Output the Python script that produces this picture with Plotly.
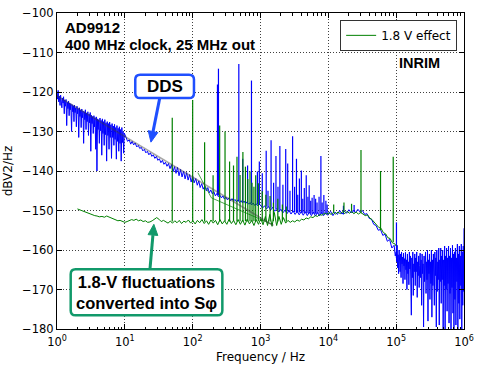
import math
import plotly.graph_objects as go

# ---------------- data ----------------
# DDS (blue) spectrum, piecewise lists of frequency [Hz] and level [dBV2/Hz]
blue_f_a = [1.00, 1.02, 1.04, 1.06, 1.08, 1.11, 1.13, 1.15, 1.18, 1.20,
            1.23, 1.25, 1.28, 1.30, 1.33, 1.36, 1.39, 1.42, 1.45, 1.48,
            1.51, 1.54, 1.57, 1.60, 1.64, 1.67, 1.71, 1.74, 1.78, 1.81,
            1.85, 1.89, 1.93, 1.97, 2.01, 2.05, 2.09, 2.14, 2.18, 2.23,
            2.27, 2.32, 2.37, 2.42, 2.47, 2.52, 2.57, 2.62, 2.68, 2.73,
            2.79, 2.85, 2.91, 2.97, 3.03, 3.09, 3.15, 3.22, 3.29, 3.35,
            3.42, 3.50, 3.57, 3.64, 3.72, 3.80, 3.88, 3.96, 4.04, 4.12,
            4.21, 4.30, 4.39, 4.48, 4.57, 4.67, 4.76, 4.86, 4.96, 5.07,
            5.17, 5.28, 5.39, 5.50, 5.62, 5.73, 5.85, 5.97, 6.10, 6.23,
            6.36, 6.49, 6.62, 6.76, 6.90, 7.05, 7.19, 7.34, 7.50, 7.65,
            7.81, 7.98, 8.14, 8.31, 8.49, 8.66, 8.84, 9.03, 9.22, 9.41,
            9.61, 9.81]
blue_v_a = [-120.0, -121.8, -119.6, -122.5, -121.0, -123.4, -120.8, -122.2, -124.0, -121.5,
            -122.8, -121.2, -125.5, -122.0, -123.6, -121.9, -128.5, -122.6, -124.2, -122.3,
            -126.0, -122.8, -124.5, -123.0, -130.0, -123.2, -125.0, -123.5, -127.5, -123.3,
            -125.2, -124.0, -128.8, -123.6, -125.5, -124.2, -131.5, -124.0, -126.2, -124.6,
            -129.0, -124.3, -126.5, -124.8, -133.0, -125.0, -127.0, -124.5, -129.5, -125.3,
            -127.5, -125.0, -131.0, -125.6, -127.8, -125.2, -135.0, -125.9, -128.0, -126.2,
            -130.5, -126.0, -128.8, -126.5, -134.5, -126.3, -140.0, -126.8, -129.5, -127.0,
            -133.0, -126.6, -129.8, -127.2, -136.0, -126.8, -130.5, -127.5, -133.5, -127.0,
            -130.8, -127.8, -137.5, -127.5, -131.0, -128.0, -134.5, -127.6, -131.5, -128.3,
            -136.8, -128.0, -131.5, -128.6, -133.5, -128.2, -132.0, -129.0, -137.0, -128.5,
            -132.5, -129.2, -135.0, -128.8, -133.0, -129.5, -137.5, -129.0, -132.8, -130.0,
            -135.5, -130.4]
blue_f_b = [10.5, 11.0, 11.6, 12.2, 12.8, 13.5, 14.2, 15.0, 15.8, 16.6,
            17.5, 18.4, 19.4, 20.4, 21.5, 22.6, 23.8, 25.0, 26.3, 27.7,
            29.2, 30.7, 32.3, 34.0, 35.8, 37.7, 39.7, 41.8, 44.0, 46.3,
            48.7, 51.3, 54.0, 56.8, 59.8, 63.0, 66.3, 69.8, 73.5, 77.3,
            81.4, 85.7, 90.2, 95.0, 100, 105, 111, 117, 123, 129,
            136, 143, 151, 159, 167, 176, 185, 195, 205, 216,
            227, 239, 252, 265, 279, 294, 309, 325, 343, 361,
            380, 400, 421, 443, 466, 491, 517, 544, 573, 603,
            635, 668, 703, 740, 779, 820, 863, 909, 956]
blue_v_b = [-131.6, -132.5, -132.1, -133.2, -132.5, -133.4, -132.9, -133.9, -133.5, -134.3,
            -134.0, -134.9, -134.5, -135.4, -135.0, -135.9, -135.4, -136.3, -135.9, -136.8,
            -136.3, -137.3, -136.9, -137.9, -137.3, -138.3, -137.8, -138.8, -138.1, -139.4,
            -138.4, -140.2, -138.9, -140.6, -139.1, -141.2, -139.6, -141.5, -140.0, -142.0,
            -140.4, -142.3, -140.9, -142.8, -141.3, -143.0, -141.9, -143.6, -142.5, -144.2,
            -143.2, -144.6, -143.8, -145.0, -144.2, -145.5, -144.8, -145.8, -145.2, -146.3,
            -145.7, -146.5, -146.1, -146.8, -146.3, -147.1, -146.6, -147.3, -146.8, -147.5,
            -147.0, -147.6, -147.2, -147.8, -147.3, -148.0, -147.5, -148.1, -147.6, -148.3,
            -147.8, -148.4, -148.0, -148.6, -148.1, -148.7, -148.3, -148.8, -148.4]
blue_f_c = [1000, 1070, 1150, 1230, 1320, 1410, 1510, 1620, 1740, 1860, 2000, 2140, 2290, 2460,
            2630, 2820, 3020, 3240, 3470, 3720, 3980, 4270, 4570, 4900, 5250, 5620, 6030, 6460,
            6920, 7410, 7940, 8510, 9120, 9770]
blue_v_c = [-148.6, -149.4, -148.8, -149.6, -149.0, -149.9, -149.2, -150.2, -149.5, -150.4,
            -149.7, -150.6, -149.9, -150.8, -150.0, -150.9, -150.1, -151.0, -150.2, -151.1,
            -150.3, -151.2, -150.3, -151.3, -150.4, -151.3, -150.4, -151.4, -150.5, -151.4,
            -150.5, -151.3, -150.6, -151.2]
blue_f_d = [10000, 10800, 11700, 12600, 13600, 14700, 15900, 17200, 18600, 20100, 21700, 23400,
            25300, 27300, 29500, 31800, 34400, 37100, 40100, 43300, 46700, 50500, 54500, 58800,
            63500, 68600, 74100, 80000, 86400, 93300, 97000]
blue_v_d = [-150.8, -150.2, -151.3, -150.4, -151.0, -150.0, -150.9, -150.1, -150.7, -149.8,
            -150.6, -149.9, -150.5, -149.7, -150.4, -150.0, -151.0, -150.8, -152.0, -152.2,
            -153.5, -153.8, -155.0, -154.8, -156.3, -156.0, -157.8, -157.3, -159.5, -158.8,
            -161.5]
blue_f_e_khz = [100, 101.7, 103.4, 105.1, 106.9, 108.7, 110.5, 112.3, 114.2, 116.1,
                118.1, 120.0, 122.0, 124.1, 126.2, 128.3, 130.4, 132.6, 134.8, 137.1,
                139.4, 141.7, 144.1, 146.5, 149.0, 151.5, 154.0, 156.6, 159.2, 161.9,
                164.6, 167.3, 170.1, 173.0, 175.9, 178.8, 181.8, 184.9, 188.0, 191.1,
                194.3, 197.6, 200.9, 204.3, 207.7, 211.2, 214.7, 218.3, 222.0, 225.7,
                229.5, 233.3, 237.2, 241.2, 245.2, 249.3, 253.5, 257.8, 262.1, 266.5,
                270.9, 275.5, 280.1, 284.8, 289.6, 294.4, 299.4, 304.4, 309.5, 314.7,
                319.9, 325.3, 330.8, 336.3, 342.0, 347.7, 353.5, 359.4, 365.5, 371.6,
                377.8, 384.2, 390.6, 397.1, 403.8, 410.6, 417.5, 424.5, 431.6, 438.8,
                446.2, 453.7, 461.3, 469.0, 476.9, 484.9, 493.0, 501.3, 509.7, 518.2,
                526.9, 535.8, 544.8, 553.9, 563.2, 572.6, 582.2, 592.0, 601.9, 612.0,
                622.3, 632.7, 643.3, 654.1, 665.1, 676.2, 687.6, 699.1, 710.9, 722.8,
                734.9, 747.3, 759.8, 772.6, 785.5, 798.7, 812.1, 825.7, 839.6, 853.7,
                868.0, 882.6, 897.4, 912.4, 927.7, 943.3, 959.1, 975.2, 991.6, 1000]
blue_v_e = [-160.5, -163.0, -158.8, -164.5, -161.2, -166.0, -160.0, -162.8, -165.5, -161.0,
            -167.0, -160.5, -163.5, -161.8, -168.5, -160.8, -164.0, -162.2, -167.5, -160.6,
            -165.0, -162.5, -170.0, -161.0, -166.0, -163.0, -168.8, -160.5, -164.8, -161.5,
            -166.5, -176.5, -162.0, -167.0, -160.5, -171.5, -163.5, -165.5, -161.0, -169.0,
            -162.0, -165.5, -160.5, -172.0, -163.0, -166.5, -161.5, -169.5, -164.0, -160.8,
            -167.0, -162.5, -174.0, -161.0, -166.0, -163.5, -179.5, -161.5, -168.0, -164.0,
            -160.5, -171.0, -163.0, -167.5, -160.0, -178.0, -162.5, -166.0, -161.0, -172.5,
            -163.0, -168.5, -160.0, -177.0, -162.5, -169.0, -161.0, -165.5, -174.0, -160.5,
            -166.5, -162.0, -179.5, -160.0, -170.5, -163.0, -167.5, -159.5, -179.0, -162.5,
            -168.0, -159.5, -173.5, -161.5, -167.5, -160.0, -180.0, -162.5, -169.0, -159.0,
            -180.0, -161.5, -170.0, -159.5, -175.5, -162.0, -168.5, -159.0, -178.5, -161.5,
            -171.0, -159.5, -180.0, -162.0, -169.5, -158.8, -176.0, -161.0, -180.0, -160.5,
            -172.5, -159.5, -179.0, -162.0, -168.0, -158.5, -180.0, -161.0, -173.5, -159.0,
            -177.5, -161.5, -169.0, -158.5, -180.0, -160.5, -174.0, -159.0, -170.5, -154.5]

# DDS spurs: frequency, top level, foot level
blue_spur_f = [232, 240, 479, 547, 645, 736, 900, 961, 1062, 1213, 1290, 1432, 1560, 1690, 1810,
               1929, 2140, 2354, 2517, 2720, 2972, 3180, 3390, 3540, 3745, 4002, 4200, 4423,
               4724, 5000, 5219, 5500, 5768, 6166, 6500, 6813, 7300, 7770, 8100, 8590, 9200,
               9600, 16700, 24000, 101000]
blue_spur_top = [-118.1, -114.1, -112.9, -136.9, -138.6, -117.1, -140.1, -137.6, -140.6, -134.9,
                 -145.0, -132.2, -143.0, -136.2, -144.0, -133.7, -143.5, -134.4, -138.1, -145.0,
                 -131.2, -144.0, -136.9, -146.0, -141.9, -139.9, -147.0, -144.3, -141.1, -146.5,
                 -143.6, -147.5, -146.8, -146.1, -147.0, -148.0, -146.5, -136.2, -148.0, -146.1,
                 -147.5, -148.5, -148.8, -148.6, -153.0]
blue_spur_foot = [-146.0, -146.2, -147.6, -147.8, -148.0, -148.2, -148.5, -148.6, -148.8, -149.0,
                  -149.2, -149.3, -149.5, -149.6, -149.8, -149.9, -150.0, -150.1, -150.2, -150.3,
                  -150.4, -150.4, -150.5, -150.5, -150.5, -150.6, -150.6, -150.6, -150.7, -150.7,
                  -150.7, -150.8, -150.8, -150.8, -150.8, -150.8, -150.8, -150.8, -150.8, -150.8,
                  -150.8, -150.8, -151.0, -150.5, -162.0]

# 1.8 V effect (green) spectrum
green_f = [2.0, 2.2, 2.4, 2.6, 2.8, 3.0, 3.3, 3.6, 3.9, 4.2, 4.6, 5.0, 5.4, 5.8, 6.3, 6.8, 7.3,
           7.9, 8.5, 9.2, 10.0, 10.8, 11.7, 12.6, 13.6, 14.7, 15.9, 17.2, 18.6, 20.1, 21.7, 23.4,
           25.3, 27.3, 29.5, 31.8, 34.4, 37.1, 40.1, 43.3, 46.7, 50.5, 54.5, 58.8, 63.5, 68.6,
           74.1, 80.0, 86.4, 93.3, 100.8, 108.8, 117.5, 126.9, 137, 148, 160, 172, 186, 201, 217,
           234, 253, 273, 295, 319, 344, 372, 401, 433, 468, 505, 546, 589, 636, 687, 742, 801,
           865, 935, 1010, 1090, 1180, 1270, 1370, 1480, 1600, 1730, 1870, 2020, 2180, 2350, 2540,
           2750, 2970, 3200, 3460, 3740, 4040, 4360, 4710, 5090, 5500, 5940, 6410, 6930, 7480,
           8080, 8730, 9430, 10200, 11000, 11900, 12800, 13900, 15000, 16200, 17500, 18900, 20400,
           22000, 23800, 25700, 27700, 30000, 32400, 35000, 37800, 40800, 44000, 47600, 51400,
           55500, 59900, 64700, 69900, 75500, 81500, 88000, 95000, 100000]
green_v = [-149.6, -149.9, -150.0, -150.4, -150.6, -150.9, -151.1, -151.3, -151.4, -151.6, -151.5,
           -151.7, -151.4, -151.6, -151.9, -152.2, -152.4, -152.6, -152.5, -152.8, -153.0, -152.8,
           -152.5, -152.3, -152.5, -152.2, -152.6, -152.4, -152.8, -152.6, -153.0, -152.9, -152.6,
           -152.2, -151.8, -152.2, -152.8, -152.5, -152.9, -153.2, -152.7, -153.2, -152.6, -153.1,
           -152.5, -153.3, -152.7, -153.0, -152.4, -153.2, -152.6, -153.4, -152.5, -153.1, -152.3,
           -153.3, -152.6, -153.5, -152.4, -153.2, -152.5, -153.6, -152.3, -153.4, -152.6, -153.5,
           -152.2, -153.3, -152.5, -153.6, -152.3, -153.5, -152.4, -153.7, -152.2, -153.4, -152.5,
           -153.8, -152.3, -153.5, -152.0, -153.6, -151.5, -153.8, -151.0, -154.0, -150.5, -153.8,
           -151.5, -153.5, -151.8, -153.2, -152.5, -153.0, -152.6, -152.9, -152.4, -152.7, -152.2,
           -152.4, -151.9, -152.1, -151.6, -151.8, -151.3, -151.5, -151.0, -151.2, -150.7, -150.9,
           -150.6, -151.0, -150.5, -150.9, -150.4, -150.8, -150.3, -150.8, -150.2, -150.7, -150.3,
           -150.8, -150.4, -150.9, -150.5, -150.8, -151.3, -151.1, -151.9, -152.3, -153.0, -153.4,
           -154.3, -154.5, -155.6, -155.9, -156.9, -157.1, -158.2, -158.4, -159.0]

# 1.8 V effect spurs: frequency, top level, foot level
green_spur_f = [50, 100, 150, 200, 250, 300, 350, 400, 450, 500, 550, 600, 650, 700, 750, 800,
                850, 929, 1062, 1200, 1384, 1550, 1800, 2100, 2400, 12000, 17000, 22000,
                30300, 58800, 90500]
green_spur_top = [-126.5, -122.0, -132.7, -141.1, -128.5, -130.0, -137.6, -138.6, -136.4, -141.0,
                  -135.2, -138.9, -142.0, -140.1, -143.0, -144.0, -141.1, -143.1, -145.1, -146.0,
                  -146.3, -148.0, -147.0, -148.5, -149.0, -148.5, -148.0, -148.3, -134.7, -140.0,
                  -136.4]
green_spur_foot = [-152.8, -152.8, -152.8, -152.7, -152.8, -152.7, -152.8, -152.7, -152.8, -152.7,
                   -152.8, -152.7, -152.8, -152.7, -152.8, -152.7, -152.8, -152.7, -152.8, -152.7,
                   -152.8, -152.7, -152.8, -152.7, -152.8, -150.6, -150.4, -150.2, -150.7, -155.0,
                   -158.0]

# fitted trend lines
fit_gray_f = [1, 1550]
fit_gray_v = [-121.0, -153.8]
fit_green_f = [119, 189, 1475]
fit_green_v = [-140.4, -146.8, -153.5]

x_tickvals = [1, 10, 100, 1000, 10000, 100000, 1000000]
x_ticktext = ["10<sup>0</sup>", "10<sup>1</sup>", "10<sup>2</sup>", "10<sup>3</sup>",
              "10<sup>4</sup>", "10<sup>5</sup>", "10<sup>6</sup>"]
y_tickvals = [-180, -170, -160, -150, -140, -130, -120, -110, -100]

# ---------------- figure ----------------
BLUE = "#0000ff"
GREEN = "#008000"

def spur_xy(fs, tops, foots):
    xs, ys = [], []
    for f, t, b in zip(fs, tops, foots):
        xs += [f, f, None]
        ys += [b, t, None]
    return xs, ys

blue_f = blue_f_a + blue_f_b + blue_f_c + blue_f_d + [k * 1000 for k in blue_f_e_khz]
blue_v = blue_v_a + blue_v_b + blue_v_c + blue_v_d + blue_v_e

fig = go.Figure()
fig.add_trace(go.Scatter(x=blue_f, y=blue_v, mode="lines", line=dict(color=BLUE, width=1),
                         showlegend=False, hoverinfo="skip"))
bx, by = spur_xy(blue_spur_f, blue_spur_top, blue_spur_foot)
fig.add_trace(go.Scatter(x=bx, y=by, mode="lines", line=dict(color=BLUE, width=1.2),
                         showlegend=False, hoverinfo="skip"))
fig.add_trace(go.Scatter(x=green_f, y=green_v, mode="lines", line=dict(color=GREEN, width=1),
                         name="1.8 V effect"))
gx, gy = spur_xy(green_spur_f, green_spur_top, green_spur_foot)
fig.add_trace(go.Scatter(x=gx, y=gy, mode="lines", line=dict(color=GREEN, width=1.2),
                         showlegend=False, hoverinfo="skip"))
fig.add_trace(go.Scatter(x=fit_green_f, y=fit_green_v, mode="lines",
                         line=dict(color="rgba(0,128,0,0.7)", width=1), showlegend=False,
                         hoverinfo="skip"))
fig.add_trace(go.Scatter(x=fit_gray_f, y=fit_gray_v, mode="lines",
                         line=dict(color="rgba(60,60,60,0.45)", width=1.5),
                         showlegend=False, hoverinfo="skip"))

# plot area in pixels: x 57..473, y 6..329
L, R, T, B = 57, 473, 6, 329
def px(x):
    return (x - L) / (R - L)
def py(y):
    return 1 - (y - T) / (B - T)

def rounded_rect(x0, y0, x1, y1, r):
    rx = r / (R - L)
    ry = r / (B - T)
    X0, X1 = px(x0), px(x1)
    Y0, Y1 = py(y0), py(y1)  # Y0 top, Y1 bottom
    return (f"M {X0+rx},{Y0} L {X1-rx},{Y0} Q {X1},{Y0} {X1},{Y0-ry} "
            f"L {X1},{Y1+ry} Q {X1},{Y1} {X1-rx},{Y1} L {X0+rx},{Y1} "
            f"Q {X0},{Y1} {X0},{Y1+ry} L {X0},{Y0-ry} Q {X0},{Y0} {X0+rx},{Y0} Z")

def add_arrow(tail, head, color, width=3, head_len=11, head_half=5):
    dx, dy = head[0] - tail[0], head[1] - tail[1]
    n = math.hypot(dx, dy)
    ux, uy = dx / n, dy / n
    bx_, by_ = head[0] - head_len * ux, head[1] - head_len * uy
    pxp, pyp = -uy, ux
    fig.add_shape(type="line", xref="paper", yref="paper",
                  x0=px(tail[0]), y0=py(tail[1]), x1=px(bx_), y1=py(by_),
                  line=dict(color=color, width=width), layer="above")
    c1 = (bx_ + head_half * pxp, by_ + head_half * pyp)
    c2 = (bx_ - head_half * pxp, by_ - head_half * pyp)
    path = (f"M {px(head[0])},{py(head[1])} L {px(c1[0])},{py(c1[1])} "
            f"L {px(c2[0])},{py(c2[1])} Z")
    fig.add_shape(type="path", xref="paper", yref="paper", path=path,
                  line=dict(color=color, width=1), fillcolor=color, layer="above")

DDS_C = "#1f4fff"
FLU_C = "#11996a"

add_arrow((162, 93), (153, 138), DDS_C)
add_arrow((152, 268), (156, 222), FLU_C)

fig.add_shape(type="path", xref="paper", yref="paper", path=rounded_rect(137, 69, 197, 93, 5),
              line=dict(color=DDS_C, width=2.5), fillcolor="white", layer="above")
fig.add_shape(type="path", xref="paper", yref="paper", path=rounded_rect(71, 268, 226, 315, 5),
              line=dict(color=FLU_C, width=2.5), fillcolor="white", layer="above")

BOLD = "Liberation Sans, Arial, sans-serif"
ann = [
    dict(x=px(63), y=py(21), text="<b>AD9912</b>", xanchor="left", yanchor="middle",
         font=dict(family=BOLD, size=15, color="black")),
    dict(x=px(63), y=py(38.5), text="<b>400 MHz clock, 25 MHz out</b>", xanchor="left",
         yanchor="middle", font=dict(family=BOLD, size=15, color="black")),
    dict(x=px(428), y=py(57), text="<b>INRIM</b>", xanchor="center", yanchor="middle",
         font=dict(family=BOLD, size=14.5, color="black")),
    dict(x=px(167), y=py(81), text="<b>DDS</b>", xanchor="center", yanchor="middle",
         font=dict(family=BOLD, size=17, color="black")),
    dict(x=px(148.5), y=py(291.5), text="<b>1.8-V fluctuations<br>converted into Sφ</b>",
         xanchor="center", yanchor="middle", align="center",
         font=dict(family=BOLD, size=16.5, color="black")),
]
for a in ann:
    fig.add_annotation(xref="paper", yref="paper", showarrow=False, **a)

axis_common = dict(showline=True, linecolor="black", linewidth=1, mirror="ticks",
                   ticks="inside", ticklen=5, tickcolor="black", showgrid=True,
                   gridcolor="rgba(0,0,0,0.75)", griddash="1px,2px", gridwidth=1,
                   zeroline=False, ticklabeloverflow="allow",
                   tickfont=dict(family="DejaVu Sans", size=11.5, color="black"))

fig.update_layout(
    width=480, height=371,
    margin=dict(l=L, r=480 - R, t=T, b=371 - B),
    paper_bgcolor="white", plot_bgcolor="white",
    font=dict(family="DejaVu Sans", size=12, color="black"),
    xaxis=dict(type="log", range=[0, 6], tickmode="array", tickvals=x_tickvals,
               ticktext=x_ticktext, ticklabelstandoff=2,
               minor=dict(ticks="inside", ticklen=2.5, dtick="D1", showgrid=False,
                          tickcolor="black"),
               title=dict(text="Frequency / Hz", font=dict(family="DejaVu Sans", size=12),
                          standoff=4),
               **axis_common),
    yaxis=dict(range=[-180, -100], tickmode="array", tickvals=y_tickvals,
               title=dict(text="dBV2/Hz", font=dict(family="DejaVu Sans", size=12),
                          standoff=6),
               **axis_common),
    legend=dict(x=px(466), y=py(13), xanchor="right", yanchor="top", bgcolor="white",
                bordercolor="#333333", borderwidth=1,
                font=dict(family="DejaVu Sans", size=12, color="black")),
    showlegend=True,
)

fig.write_html("out.html")
